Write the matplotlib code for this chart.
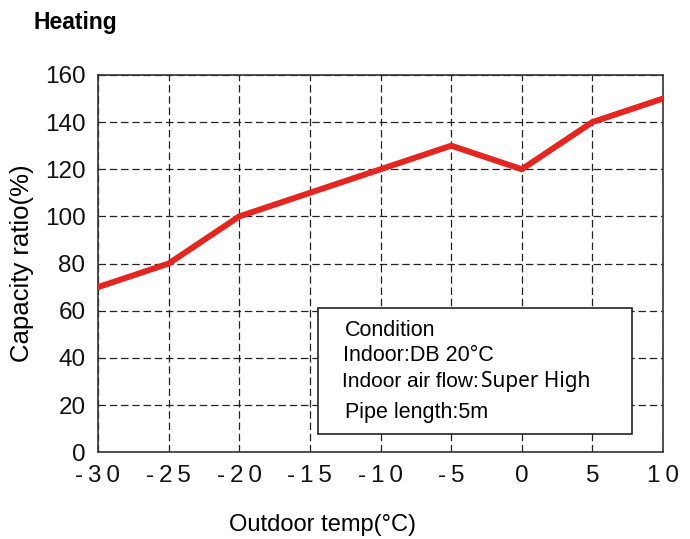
import matplotlib.pyplot as plt

plt.rcParams['font.family'] = ['Liberation Sans', 'DejaVu Sans']

outdoor_temp = [-30, -25, -20, -15, -10, -5, 0, 5, 10]
capacity_ratio = [70, 80, 100, 110, 120, 130, 120, 140, 150]
x_ticks = [-30, -25, -20, -15, -10, -5, 0, 5, 10]
y_ticks = [0, 20, 40, 60, 80, 100, 120, 140, 160]

fig = plt.figure(figsize=(6.9, 5.39), dpi=100)
ax = fig.add_axes([0.142, 0.161, 0.819, 0.700])

ax.plot(outdoor_temp, capacity_ratio, color='#e52620', linewidth=4.3,
        solid_capstyle='round', zorder=3)

ax.set_xlim(-30, 10)
ax.set_ylim(0, 160)
ax.set_xticks(x_ticks)
ax.set_yticks(y_ticks)
ax.set_xticklabels(['\u2009'.join(str(t)) for t in x_ticks])
ax.tick_params(axis='both', length=0, labelsize=17.5, colors='#111111')
ax.tick_params(axis='x', pad=9)
ax.tick_params(axis='y', pad=9)
ax.grid(True, color='#222222', linestyle=(0, (6, 3)), linewidth=0.9)
for s in ax.spines.values():
    s.set_color('#333333')
    s.set_linewidth(1.2)

ax.set_ylabel('Capacity ratio(%)', fontsize=18.5, labelpad=8)
fig.text(0.468, 0.026, 'Outdoor temp(°C)', fontsize=17, ha='center', va='center')

fig.text(0.048, 0.958, 'Heating', fontsize=16.5, fontweight='bold', va='center')

# condition box
box = plt.Rectangle((-14.4, 7.6), 22.2, 53.5, facecolor='white',
                    edgecolor='#222222', linewidth=1.2, zorder=4)
ax.add_patch(box)
ax.text(-12.5, 51.8, 'Condition', fontsize=15.5, va='center', zorder=5)
ax.text(-12.65, 41.2, 'Indoor:DB 20°C', fontsize=15.5, va='center', zorder=5)
ax.text(-12.7, 30.1, 'Indoor air flow:', fontsize=15, va='center', zorder=5)
ax.text(-2.9, 30.1, 'Super High', fontsize=15, va='center', zorder=5,
        family=['Noto Sans', 'DejaVu Sans'], fontweight='semibold')
ax.text(-12.5, 17.0, 'Pipe length:5m', fontsize=15.5, va='center', zorder=5)

fig.savefig('out.png', dpi=100)
